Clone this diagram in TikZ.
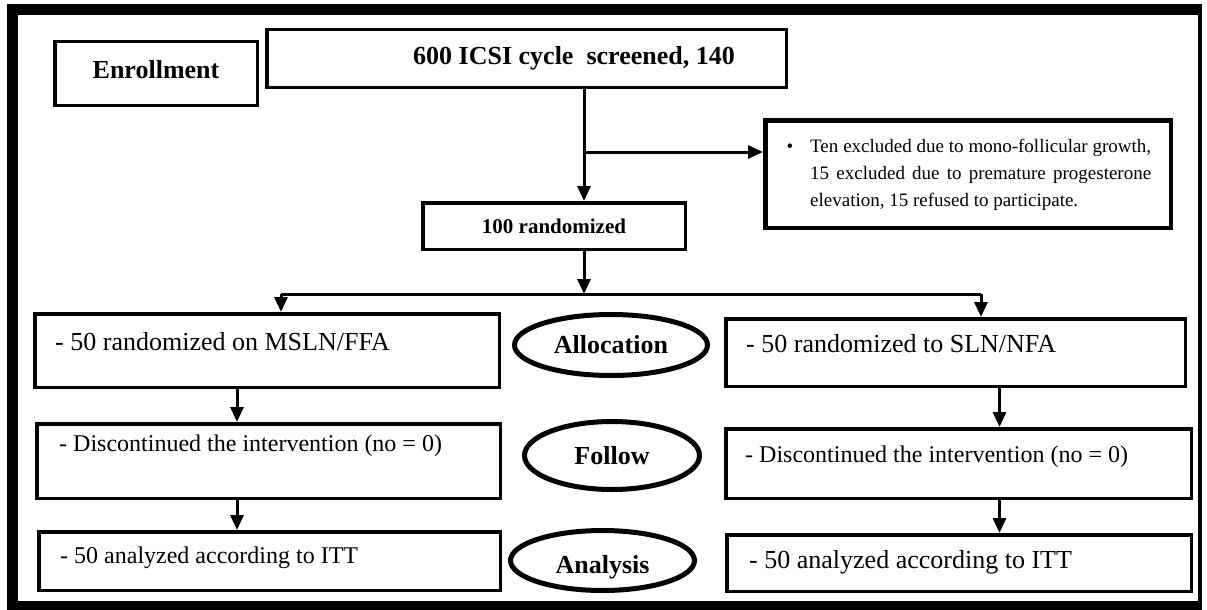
\documentclass[tikz,border=0pt]{standalone}
\usepackage{fontspec}
\setmainfont{Liberation Serif}
\usetikzlibrary{arrows.meta,shapes.geometric}

\begin{document}
\begin{tikzpicture}[x=1pt, y=-1pt,
  box/.style={draw, line width=3.5pt, inner sep=0pt},
  oval/.style={draw, ellipse, line width=5pt, inner sep=0pt, font=\bfseries\fontsize{26}{30}\selectfont},
  txt/.style={anchor=base west, inner sep=0pt, font=\fontsize{26}{30}\selectfont},
  smalltxt/.style={txt, font=\fontsize{24}{28}\selectfont},
  arr/.style={-{Triangle[width=13pt,length=15pt]}, line width=3pt},
  link/.style={line width=3pt}]
  \useasboundingbox (0,0) rectangle (1207,610);

  % outer frame
  \draw[line width=11pt] (1200,9.5) -- (12.5,9.5) -- (12.5,606.5) -- (1200,606.5);
  \draw[line width=4pt] (1200,4) -- (1200,610);

  % enrollment
  \node[box, minimum width=202.5pt, minimum height=63.5pt, text depth=8pt,
        font=\bfseries\fontsize{26}{30}\selectfont] (enroll) at (156,73.5) {Enrollment};
  \node[box, minimum width=519.5pt, minimum height=57.5pt,
        font=\bfseries\fontsize{26}{30}\selectfont] (screen) at (526.5,58.5)
        {\hspace*{95pt}600 ICSI cycle\ \ screened, 140};
  \node[box, line width=4.5pt, minimum width=405.5pt, minimum height=107.5pt] (excl) at (968,174) {};
  \node[anchor=base west, inner sep=0pt, text width=341pt, align=justify,
        font=\fontsize{19}{27}\selectfont] (excltxt) at (810,152.7)
        {\tolerance=9999\llap{\textbullet\hspace{17pt}}Ten excluded due to mono-follicular growth,\linebreak
         15 excluded due to premature progesterone\linebreak elevation, 15 refused to participate.};
  \node[box, minimum width=262.5pt, minimum height=46.5pt,
        font=\bfseries\fontsize{21}{25}\selectfont] (rand) at (554,226) {100 randomized};

  % allocation
  \node[box, minimum width=464.5pt, minimum height=73.5pt] (l1) at (267,350.5) {};
  \node[txt] (l1txt) at (55,350) {- 50 randomized on MSLN/FFA};
  \node[oval, minimum width=193pt, minimum height=61pt] (alloc) at (611,345) {Allocation};
  \node[box, minimum width=459.5pt, minimum height=67.5pt] (r1) at (955.5,352.5) {};
  \node[txt] (r1txt) at (746,352) {- 50 randomized to SLN/NFA};

  % follow
  \node[box, minimum width=463.5pt, minimum height=74.5pt] (l2) at (268.5,461) {};
  \node[smalltxt] (l2txt) at (59,451) {- Discontinued the intervention (no = 0)};
  \node[oval, minimum width=175pt, minimum height=68pt] (follow) at (612,455.5) {Follow};
  \node[box, minimum width=465.5pt, minimum height=69.5pt] (r2) at (958.5,463.5) {};
  \node[smalltxt] (r2txt) at (745,462) {- Discontinued the intervention (no = 0)};

  % analysis
  \node[box, minimum width=461.5pt, minimum height=58.5pt] (l3) at (269.5,561) {};
  \node[smalltxt] (l3txt) at (60,563) {- 50 analyzed according to ITT};
  \node[oval, minimum width=184pt, minimum height=60pt, text height=31pt] (analysis) at (602.5,560.5) {Analysis};
  \node[box, minimum width=464.5pt, minimum height=56.5pt] (r3) at (959,563) {};
  \node[txt] (r3txt) at (749,568) {- 50 analyzed according to ITT};

  % connectors
  \coordinate (trunk) at (584,0);
  \coordinate (split) at (584,152);
  \coordinate (fork) at (584,294);
  \coordinate (forkL) at (281,294);
  \coordinate (forkR) at (981,294);
  \coordinate (colL) at (237,0);
  \coordinate (colR) at (999.5,0);

  \draw[arr] (screen.south -| trunk) -- (rand.north -| trunk);
  \draw[arr] (split) -- (split -| excl.west);
  \draw[arr] (rand.south -| trunk) -- (fork);
  \draw[link] (forkL) -- (forkR);
  \draw[arr] (forkL) -- (forkL |- l1.north);
  \draw[arr] (forkR) -- (forkR |- r1.north);
  \draw[arr] (l1.south -| colL) -- (l2.north -| colL);
  \draw[arr] (l2.south -| colL) -- (l3.north -| colL);
  \draw[arr] (r1.south -| colR) -- (r2.north -| colR);
  \draw[arr] (r2.south -| colR) -- (r3.north -| colR);
\end{tikzpicture}
\end{document}
